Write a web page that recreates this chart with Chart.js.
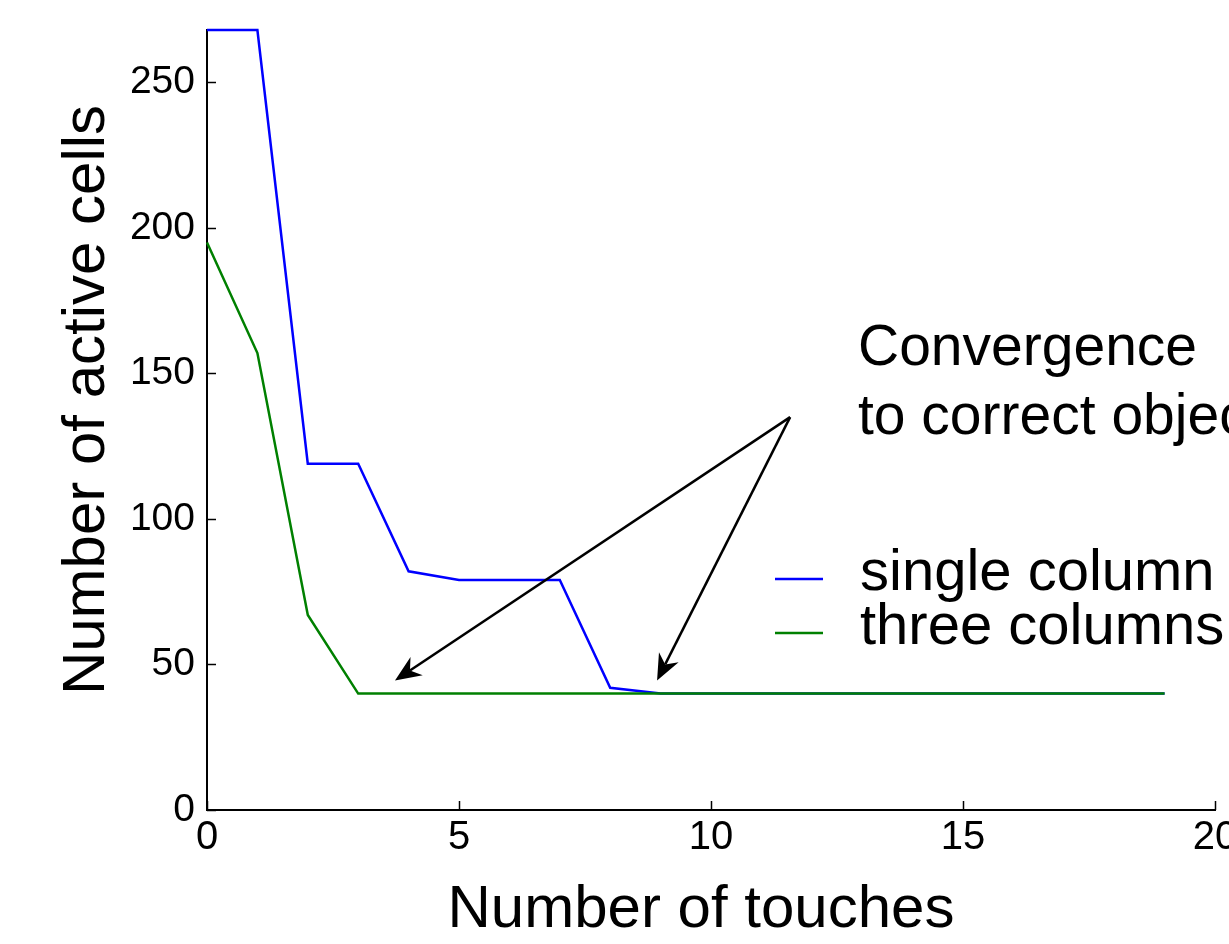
<!DOCTYPE html>
<html>
<head>
<meta charset="utf-8">
<script src="https://cdn.jsdelivr.net/npm/chart.js@4.4.0/dist/chart.umd.min.js"></script>
<style>
  html, body { margin: 0; padding: 0; background: #fff; overflow: hidden; width: 1229px; height: 944px; }
  canvas { display: block; }
</style>
</head>
<body>
<canvas id="chart" width="1500" height="944" style="width:1500px;height:944px"></canvas>
<script>
// ===== DATA =====
const touches = [0, 1, 2, 3, 4, 5, 6, 7, 8, 9, 10, 11, 12, 13, 14, 15, 16, 17, 18, 19];
const singleColumn = [268, 268, 119, 119, 82, 79, 79, 79, 42, 40, 40, 40, 40, 40, 40, 40, 40, 40, 40, 40];
const threeColumns = [195, 157, 67, 40, 40, 40, 40, 40, 40, 40, 40, 40, 40, 40, 40, 40, 40, 40, 40, 40];
const seriesNames = ["single column", "three columns"];
const seriesColors = ["#0000ff", "#008000"];
const yTicks = [0, 50, 100, 150, 200, 250];
const xMax = 20;
const yMax = 268;

// annotation: text + two arrows (data coords)
const noteLines = ["Convergence", "to correct object"];
const arrowTail = { x: 11.57, y: 135 };
const arrowTips = [{ x: 3.73, y: 44.5 }, { x: 8.93, y: 44.5 }];

const FONT = "'Liberation Sans', Arial, sans-serif";

// ===== EXTRA DRAWING (inward ticks, titles, arrows, legend) =====
const decorPlugin = {
  id: "decor",
  afterDraw(chart) {
    const { ctx, scales: { x, y }, chartArea: area } = chart;
    ctx.save();

    // inward tick marks
    ctx.strokeStyle = "#000";
    ctx.lineWidth = 1.5;
    x.ticks.forEach(t => {
      const px = Math.round(x.getPixelForValue(t.value)) + 0.5;
      ctx.beginPath(); ctx.moveTo(px, area.bottom); ctx.lineTo(px, area.bottom - 9); ctx.stroke();
    });
    y.ticks.forEach(t => {
      const py = Math.round(y.getPixelForValue(t.value)) + 0.5;
      ctx.beginPath(); ctx.moveTo(area.left, py); ctx.lineTo(area.left + 9, py); ctx.stroke();
    });

    // axis titles
    ctx.fillStyle = "#000";
    ctx.font = "60px " + FONT;
    ctx.textAlign = "center";
    ctx.textBaseline = "alphabetic";
    ctx.fillText("Number of touches", 701, 927);
    ctx.save();
    ctx.translate(104, 400);
    ctx.rotate(-Math.PI / 2);
    ctx.fillText("Number of active cells", 0, 0);
    ctx.restore();

    // arrows (dart-shaped heads)
    const tx = x.getPixelForValue(arrowTail.x), ty = y.getPixelForValue(arrowTail.y);
    ctx.lineWidth = 2.5;
    ctx.strokeStyle = "#000";
    arrowTips.forEach(p => {
      const hx = x.getPixelForValue(p.x), hy = y.getPixelForValue(p.y);
      const ang = Math.atan2(hy - ty, hx - tx);
      const cos = Math.cos(ang), sin = Math.sin(ang);
      const len = 26, half = 11, notch = 18;
      const bx = hx - len * cos, by = hy - len * sin;
      const nx = hx - notch * cos, ny = hy - notch * sin;
      ctx.beginPath(); ctx.moveTo(tx, ty); ctx.lineTo(nx, ny); ctx.stroke();
      ctx.beginPath();
      ctx.moveTo(hx, hy);
      ctx.lineTo(bx + half * sin, by - half * cos);
      ctx.lineTo(nx, ny);
      ctx.lineTo(bx - half * sin, by + half * cos);
      ctx.closePath();
      ctx.fill();
    });

    // annotation text
    ctx.font = "57px " + FONT;
    ctx.textAlign = "left";
    ctx.fillText(noteLines[0], 858, 365);
    ctx.fillText(noteLines[1], 858, 434);

    // legend
    ctx.font = "58px " + FONT;
    seriesNames.forEach((name, i) => {
      const ly = 579 + i * 54;
      ctx.strokeStyle = seriesColors[i];
      ctx.lineWidth = 2.5;
      ctx.beginPath(); ctx.moveTo(775, ly); ctx.lineTo(823, ly); ctx.stroke();
      ctx.fillStyle = "#000";
      ctx.fillText(name, 860, ly + 11);
    });

    ctx.restore();
  }
};

// ===== CHART =====
const ctx = document.getElementById("chart").getContext("2d");
new Chart(ctx, {
  type: "line",
  data: {
    datasets: [
      {
        label: seriesNames[0],
        data: touches.map((t, i) => ({ x: t, y: singleColumn[i] })),
        borderColor: seriesColors[0],
        borderWidth: 2.5,
        pointRadius: 0,
        tension: 0,
        fill: false,
        clip: 4,
        order: 1,
      },
      {
        label: seriesNames[1],
        data: touches.map((t, i) => ({ x: t, y: threeColumns[i] })),
        borderColor: seriesColors[1],
        borderWidth: 2.5,
        pointRadius: 0,
        tension: 0,
        fill: false,
        clip: 4,
        order: 0,
      },
    ],
  },
  options: {
    responsive: false,
    animation: false,
    events: [],
    layout: { padding: { left: 0, top: 30, right: 285, bottom: 0 } },
    scales: {
      x: {
        type: "linear",
        min: 0,
        max: xMax,
        ticks: { stepSize: 5, color: "#000", font: { family: FONT, size: 40 }, padding: 4, maxRotation: 0 },
        grid: { drawOnChartArea: false, drawTicks: false },
        border: { color: "#000", width: 2 },
        afterFit: s => { s.height = 134; s.paddingLeft = 0; s.paddingRight = 0; },
      },
      y: {
        type: "linear",
        min: 0,
        max: yMax,
        afterBuildTicks: s => { s.ticks = yTicks.map(v => ({ value: v })); },
        ticks: { color: "#000", font: { family: FONT, size: 39 }, padding: 12 },
        grid: { drawOnChartArea: false, drawTicks: false },
        border: { color: "#000", width: 2 },
        afterFit: s => { s.width = 207; s.paddingTop = 0; s.paddingBottom = 0; },
      },
    },
    plugins: {
      legend: { display: false },
      tooltip: { enabled: false },
    },
  },
  plugins: [decorPlugin],
});
</script>
</body>
</html>
